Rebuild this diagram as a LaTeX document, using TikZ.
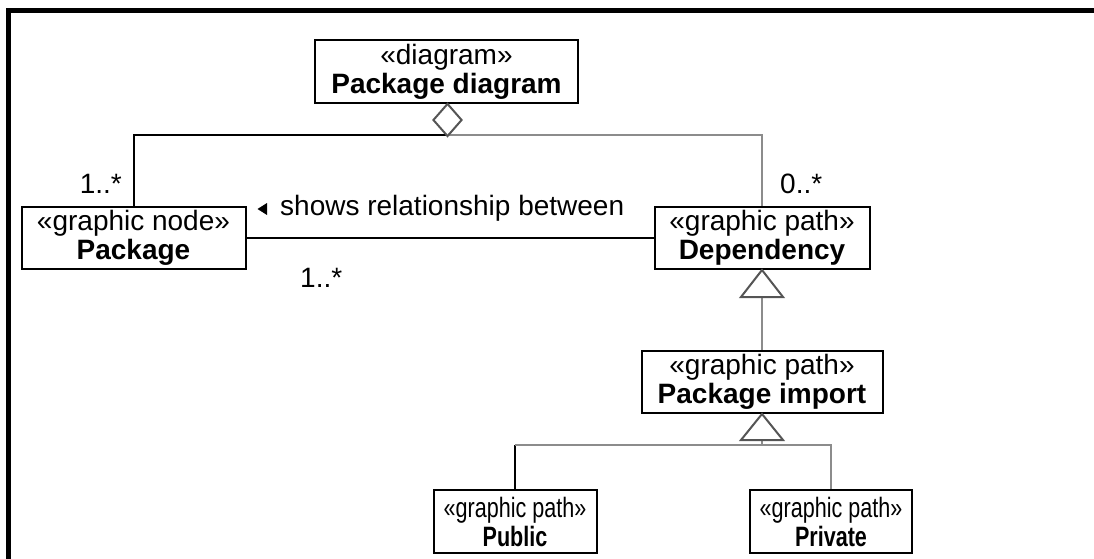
\documentclass[tikz,border=0pt]{standalone}
\usepackage{fontspec}
\setmainfont{Liberation Sans}
\newfontfamily\narrowfont[FakeStretch=0.77]{Liberation Sans}
\usetikzlibrary{shapes.geometric,calc}
\definecolor{lgray}{HTML}{8C8C8C}
\definecolor{tgray}{HTML}{555555}
\tikzset{
  cls/.style={draw=black, line width=2pt, fill=white, inner sep=0pt, align=center,
    font=\fontsize{28}{29}\selectfont},
  ncls/.style={cls, font=\narrowfont\fontsize{28}{29}\selectfont},
  lbl/.style={inner sep=0pt, font=\fontsize{28}{29}\selectfont},
  bl/.style={draw=black, line width=2pt},
  gl/.style={draw=lgray, line width=2pt},
  tri/.style={draw=tgray, line width=2pt, fill=white, line join=miter},
}
\begin{document}
\begin{tikzpicture}[x=1pt,y=-1pt]
\useasboundingbox (0,0) rectangle (1094,559);
% frame (top and left only)
\draw[line width=4.8pt, line join=miter] (8.5,559) -- (8.5,10.5) -- (1094,10.5);

% classes
\node[cls, minimum width=263pt, minimum height=63pt] (diag) at (446.5,71.5) {«diagram»\\\textbf{Package diagram}};
\node[cls, minimum width=224pt, minimum height=62pt] (pkg) at (133.5,238) {«graphic node»\\\textbf{Package}};
\node[cls, minimum width=215pt, minimum height=62pt] (dep) at (762,238) {«graphic path»\\\textbf{Dependency}};
\node[cls, minimum width=241pt, minimum height=62pt] (imp) at (762,382) {«graphic path»\\\textbf{Package import}};
\node[ncls, minimum width=163pt, minimum height=63pt] (pub) at (515,521.5) {«graphic path»\\\textbf{Public}};
\node[ncls, minimum width=162pt, minimum height=63pt] (priv) at (831,521.5) {«graphic path»\\\textbf{Private}};

% aggregation
\coordinate (hl) at (133.5,135);
\coordinate (dj) at (447.5,135);
\coordinate (hr) at (762,135);
\draw[bl] (pkg.north) -- (hl) -- (dj);
\draw[gl] (dj) -- (hr) -- (dep.north);
\node[shape=diamond, draw=tgray, line width=2pt, fill=white, inner sep=0pt, aspect=0.88,
      minimum width=29pt, minimum height=33pt] (diam) at (447.5,120) {};

% association
\draw[bl] (pkg.east) -- (dep.west);

% generalization Package import -> Dependency
\coordinate (t1) at ($(dep.south)+(0,27)$);
\draw[gl] (t1) -- (imp.north);
\draw[tri] (dep.south) -- ++(21,27) -- ++(-42,0) -- cycle;

% generalization Public/Private -> Package import
\coordinate (t2) at ($(imp.south)+(0,26)$);
\coordinate (bj) at ($(imp.south)+(0,31)$);
\coordinate (bl) at (pub.north |- bj);
\coordinate (br) at (priv.north |- bj);
\draw[gl] (t2) -- (bj);
\draw[bl] (bl) -- (pub.north);
\draw[gl] (bl) -- (br) -- (priv.north);
\draw[tri] (imp.south) -- ++(21,26) -- ++(-42,0) -- cycle;

% labels
\node[lbl, anchor=base east] (m1) at (122,193) {1..*};
\node[lbl, anchor=base west] (m2) at (780,193) {0..*};
\node[lbl, anchor=base west] (m3) at (300,287) {1..*};
\node[lbl, anchor=base west] (rel) at (280,215) {shows relationship between};
\fill[black] (257.5,209) -- (267,203) -- (267,215) -- cycle;
\end{tikzpicture}
\end{document}
